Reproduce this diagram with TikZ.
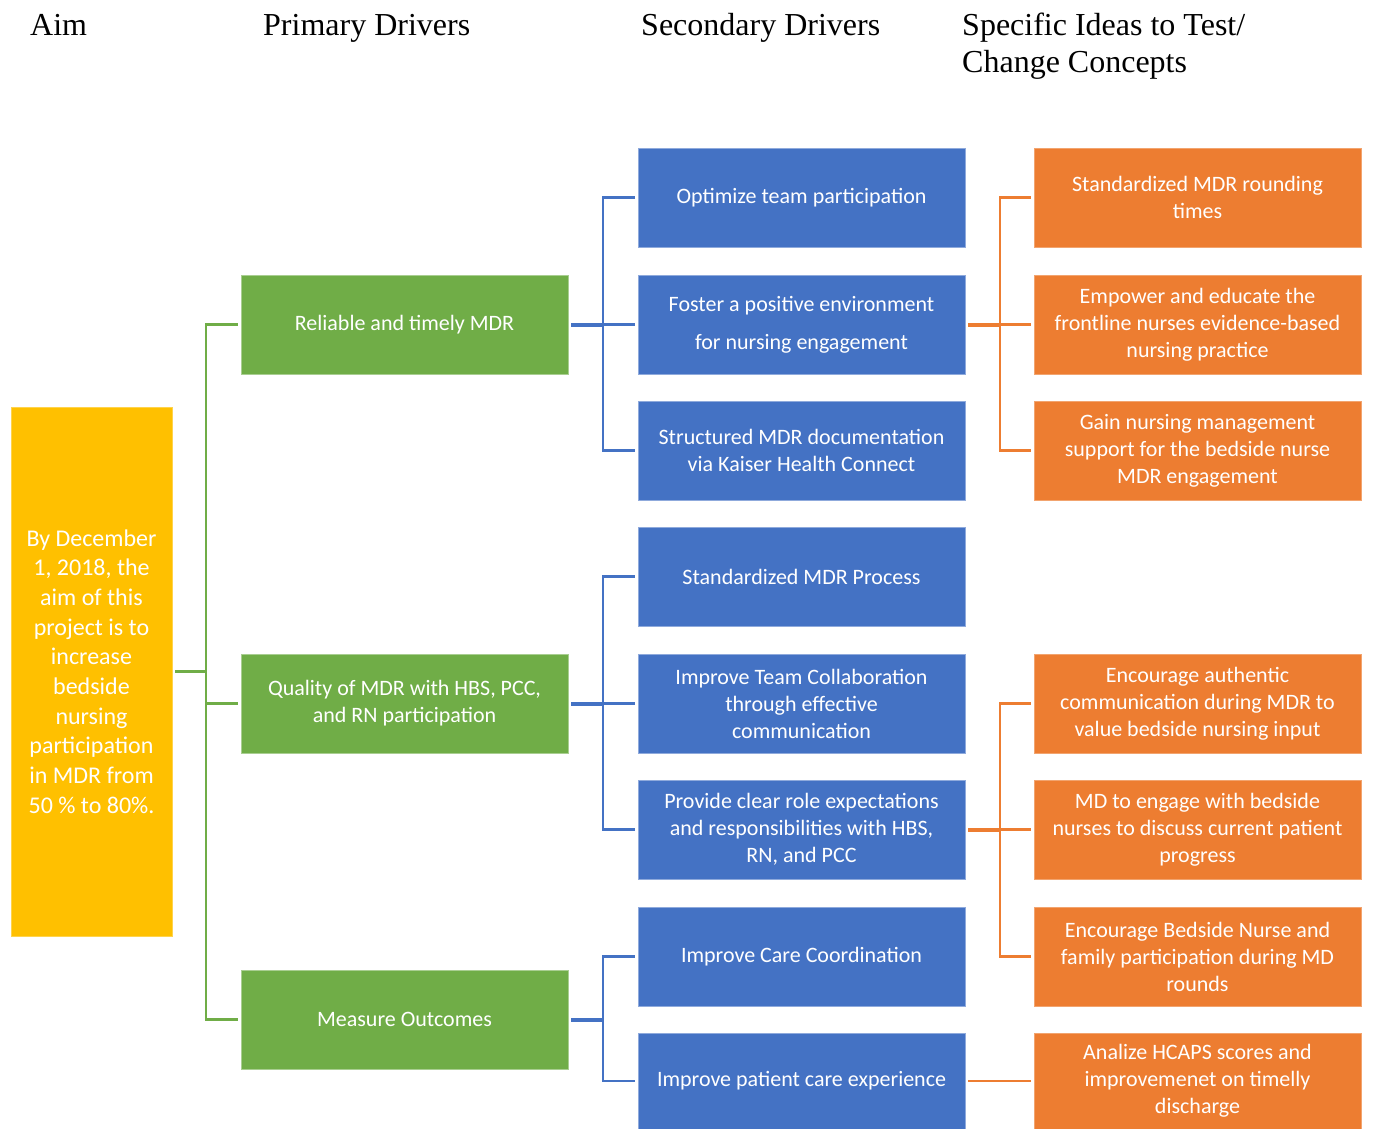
\documentclass[tikz,border=0pt]{standalone}
\usepackage{fontspec}
\setmainfont{Liberation Serif}
\newfontfamily\boxfont{Carlito}
\definecolor{aimY}{HTML}{FFC000}
\definecolor{primG}{HTML}{70AD47}
\definecolor{secB}{HTML}{4472C4}
\definecolor{chgO}{HTML}{ED7D31}
\begin{document}
\begin{tikzpicture}[x=1pt,y=-1pt,
  hdr/.style={anchor=base west,inner sep=0pt,align=left,font=\fontsize{32}{37}\selectfont},
  basebox/.style={rectangle,inner sep=0pt,align=center,text=white,line width=0.8pt,
     font=\boxfont\fontsize{22}{27}\selectfont},
  aimbox/.style={basebox,fill=aimY,draw=aimY!70!white,minimum width=161pt,minimum height=529pt,
     font=\boxfont\fontsize{24}{29.7}\selectfont},
  pbox/.style={basebox,fill=primG,draw=primG!60!white,minimum width=327pt,minimum height=99pt},
  sbox/.style={basebox,fill=secB,draw=secB!60!white,minimum width=327pt,minimum height=99pt},
  cbox/.style={basebox,fill=chgO,draw=chgO!70!white,minimum width=327pt,minimum height=99pt},
  gline/.style={draw=primG,line width=2.5pt},
  bline/.style={draw=secB,line width=2.5pt},
  bstem/.style={draw=secB,line width=4pt},
  oline/.style={draw=chgO,line width=2.5pt},
  ostem/.style={draw=chgO,line width=4pt}
]
\useasboundingbox[fill=white] (0,0) rectangle (1376,1129);

% headers
\node[hdr] (hAim) at (30,36) {Aim};
\node[hdr] (hPrim) at (263,36) {Primary Drivers};
\node[hdr] (hSec) at (641,36) {Secondary Drivers};
\node[hdr] (hChg) at (962,73) {Specific Ideas to Test/\\Change Concepts};

% aim
\node[aimbox] (aim) at (91.5,671.5) {By December\\1, 2018, the\\aim of this\\project is to\\increase\\bedside\\nursing\\participation\\in MDR from\\50 \% to 80\%.};

% primary drivers
\node[pbox] (p1) at (404.5,324.5) {Reliable and timely MDR};
\node[pbox] (p2) at (404.5,703.5) {Quality of MDR with HBS, PCC,\\and RN participation};
\node[pbox] (p3) at (404.5,1019.5) {Measure Outcomes};

% secondary drivers
\node[sbox] (s1) at (801.5,197.5) {Optimize team participation};
\node[sbox] (s2) at (801.5,324.5) {Foster a positive environment\\[11pt]for nursing engagement};
\node[sbox] (s3) at (801.5,450.5) {Structured MDR documentation\\via Kaiser Health Connect};
\node[sbox] (s4) at (801.5,576.5) {Standardized MDR Process};
\node[sbox] (s5) at (801.5,703.5) {Improve Team Collaboration\\through effective\\communication};
\node[sbox] (s6) at (801.5,829.5) {Provide clear role expectations\\and responsibilities with HBS,\\RN, and PCC};
\node[sbox] (s7) at (801.5,956.5) {Improve Care Coordination};
\node[sbox,minimum height=96pt] (s8) at (801.5,1081) {Improve patient care experience};

% change concepts
\node[cbox] (c1) at (1197.5,197.5) {Standardized MDR rounding\\times};
\node[cbox] (c2) at (1197.5,324.5) {Empower and educate the\\frontline nurses evidence-based\\nursing practice};
\node[cbox] (c3) at (1197.5,450.5) {Gain nursing management\\support for the bedside nurse\\MDR engagement};
\node[cbox] (c4) at (1197.5,703.5) {Encourage authentic\\communication during MDR to\\value bedside nursing input};
\node[cbox] (c5) at (1197.5,829.5) {MD to engage with bedside\\nurses to discuss current patient\\progress};
\node[cbox] (c6) at (1197.5,956.5) {Encourage Bedside Nurse and\\family participation during MD\\rounds};
\node[cbox,minimum height=96pt] (c7) at (1197.5,1081) {Analize HCAPS scores and\\improvemenet on timelly\\discharge};

% junctions
\coordinate (gj) at (206,671.5);
\coordinate (bj1) at (603,324.5);
\coordinate (bj2) at (603,703.5);
\coordinate (bj3) at (603,1019.5);
\coordinate (oj1) at (1000,324.5);
\coordinate (oj2) at (1000,829.5);

% green connectors
\draw[gline,shorten <=3pt] (aim.east) -- (gj);
\draw[gline,shorten >=3pt] (gj) |- (p1.west);
\draw[gline,shorten >=3pt] (gj) |- (p2.west);
\draw[gline,shorten >=3pt] (gj) |- (p3.west);

% blue connectors
\draw[bstem,shorten <=3pt] (p1.east) -- (bj1);
\draw[bline,shorten >=3pt] (bj1) |- (s1.west);
\draw[bline,shorten >=3pt] (bj1) -- (s2.west);
\draw[bline,shorten >=3pt] (bj1) |- (s3.west);
\draw[bstem,shorten <=3pt] (p2.east) -- (bj2);
\draw[bline,shorten >=3pt] (bj2) |- (s4.west);
\draw[bline,shorten >=3pt] (bj2) -- (s5.west);
\draw[bline,shorten >=3pt] (bj2) |- (s6.west);
\draw[bstem,shorten <=3pt] (p3.east) -- (bj3);
\draw[bline,shorten >=3pt] (bj3) |- (s7.west);
\draw[bline,shorten >=3pt] (bj3) |- (s8.west);

% orange connectors
\draw[ostem,shorten <=3pt] (s2.east) -- (oj1);
\draw[oline,shorten >=3pt] (oj1) |- (c1.west);
\draw[oline,shorten >=3pt] (oj1) -- (c2.west);
\draw[oline,shorten >=3pt] (oj1) |- (c3.west);
\draw[ostem,shorten <=3pt] (s6.east) -- (oj2);
\draw[oline,shorten >=3pt] (oj2) |- (c4.west);
\draw[oline,shorten >=3pt] (oj2) -- (c5.west);
\draw[oline,shorten >=3pt] (oj2) |- (c6.west);
\draw[oline,shorten <=3pt,shorten >=3pt] (s8.east) -- (c7.west);
\end{tikzpicture}
\end{document}
